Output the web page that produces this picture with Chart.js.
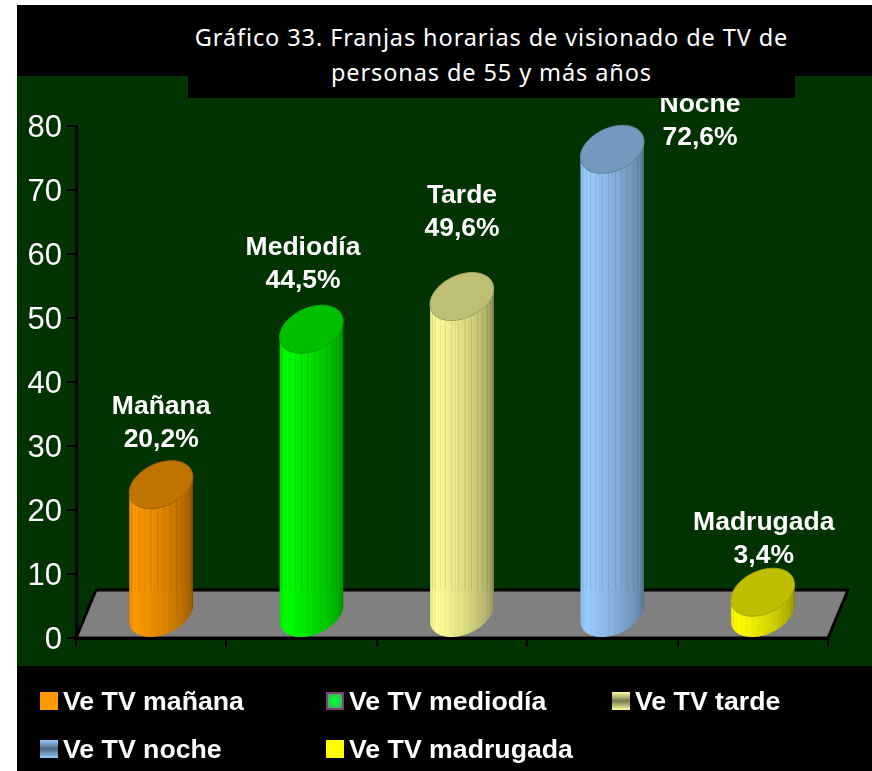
<!DOCTYPE html>
<html>
<head>
<meta charset="utf-8">
<title>Franjas horarias de visionado de TV</title>
<script src="https://cdn.jsdelivr.net/npm/chart.js@4"></script>
<style>
  html, body { margin: 0; padding: 0; background: #fff; overflow: hidden; }
  #stage { position: relative; width: 872px; height: 771px; }
  #panel { position: absolute; left: 17px; top: 76px; right: 0; height: 590px; background: #003300; }
  #bandTop { position: absolute; left: 17px; top: 5px; right: 0; height: 71px; background: #000; }
  #bandBottom { position: absolute; left: 17px; top: 666px; right: 0; bottom: 0; background: #000; }
  #myChart { position: absolute; left: 0; top: 0; }
  #title {
    position: absolute; left: 188px; top: 5px; width: 607px; height: 93px; background: #000;
    color: #fff; text-align: center; font: 23.5px/35px "Noto Sans", sans-serif; letter-spacing: 0.9px;
    padding-top: 15px; box-sizing: border-box;
  }
  .item { position: absolute; color: #fff; font: bold 26.7px/30px "Liberation Sans", sans-serif; white-space: nowrap; }
  .swatch { position: absolute; width: 18px; height: 18px; box-sizing: border-box; }
</style>
</head>
<body>
<div id="stage">
  <div id="bandTop"></div>
  <div id="panel"></div>
  <div id="bandBottom"></div>
  <canvas id="myChart" width="872" height="771"></canvas>
  <div id="title">Gráfico 33. Franjas horarias de visionado de TV de<br>personas de 55 y más años</div>
  <div id="legend"></div>
</div>
<script>
// data
var categories = ["Mañana", "Mediodía", "Tarde", "Noche", "Madrugada"];
var values = [20.2, 44.5, 49.6, 72.6, 3.4];
var seriesNames = ["Ve TV mañana", "Ve TV mediodía", "Ve TV tarde", "Ve TV noche", "Ve TV madrugada"];
var yTicks = [0, 10, 20, 30, 40, 50, 60, 70, 80];

// styles
var colors = [[255, 153, 0], [0, 255, 0], [255, 255, 153], [153, 204, 255], [255, 255, 0]];
var swatches = [
    '#ff9900',
    'radial-gradient(circle, #00ff33 20%, #5a9a6a 100%)',
    'linear-gradient(#ffff99, #77774f 50%, #ffff99)',
    'linear-gradient(#99ccff, #4d6680 50%, #99ccff)',
    '#ffff00'
];
var swatchPos = [[40, 692], [326, 692], [612, 692], [40, 740], [326, 740]];
// where each label sits, relative to the bar top
var labelDx = [10, 1.4, 10, 97.6, 11];
var labelDy = [-21, -24.5, -44, 12, -12.5];

var depthX = 21, depthY = 48;
var shear = depthX / depthY;

function shade(c, k) {
    return 'rgb(' + Math.round(c[0] * k) + ',' + Math.round(c[1] * k) + ',' + Math.round(c[2] * k) + ')';
}

function ellipsePoint(cx, cy, a, b, t) {
    var v = -b * Math.sin(t);
    return [cx + a * Math.cos(t) - shear * v, cy + v];
}

function drawCylinder(ctx, el, color, floorY) {
    var a = el.width / 2, b = depthY / 2;
    var cx = el.x + shear * b - 0.7;
    var topY = el.y - b, baseY = el.base - b;
    var t0 = Math.atan2(shear * b, a);
    var R = Math.sqrt(a * a + shear * shear * b * b);

    // side of the cylinder: outline between the two ellipses
    ctx.save();
    ctx.beginPath();
    var i, p, t;
    for (i = 0; i <= 48; i++) {
        t = t0 + Math.PI + Math.PI * i / 48;
        p = ellipsePoint(cx, baseY, a, b, t);
        if (i === 0) ctx.moveTo(p[0], p[1]); else ctx.lineTo(p[0], p[1]);
    }
    for (i = 48; i >= 0; i--) {
        t = t0 + Math.PI + Math.PI * i / 48;
        p = ellipsePoint(cx, topY, a, b, t);
        ctx.lineTo(p[0], p[1]);
    }
    ctx.closePath();
    ctx.clip();

    // facets, lit from the left
    var facets = 30;
    for (i = 0; i < facets; i++) {
        var x0 = cx - R * Math.cos(Math.PI * i / facets);
        var x1 = cx - R * Math.cos(Math.PI * (i + 1) / facets);
        var f = (i + 0.5) / facets;
        var k = f < 0.2 ? 0.88 + 0.6 * f : 1 - 0.45 * Math.pow((f - 0.2) / 0.8, 1.3);
        ctx.fillStyle = shade(color, k);
        ctx.fillRect(x0, topY - b - 2, x1 - x0 + 0.5, el.base - topY + b + 4);
        if (i % 2 === 1) {
            ctx.fillStyle = shade(color, k * 0.82);
            ctx.fillRect(x1 - 0.5, topY - b - 2, 1, floorY - topY + b + 2);
            ctx.fillStyle = shade(color, k * 0.94);
            ctx.fillRect(x1 - 0.5, floorY, 1, el.base - floorY + 2);
        }
    }
    ctx.restore();

    // top face
    ctx.beginPath();
    for (i = 0; i <= 64; i++) {
        p = ellipsePoint(cx, topY, a, b, Math.PI * 2 * i / 64);
        if (i === 0) ctx.moveTo(p[0], p[1]); else ctx.lineTo(p[0], p[1]);
    }
    ctx.closePath();
    ctx.fillStyle = shade(color, 0.75);
    ctx.fill();
    ctx.strokeStyle = shade(color, 0.66);
    ctx.lineWidth = 1;
    ctx.stroke();
}

var cylinders = {
    id: 'cylinders',
    beforeDatasetsDraw: function (chart) {
        // floor of the 3d plot
        var ctx = chart.ctx, area = chart.chartArea;
        ctx.save();
        ctx.beginPath();
        ctx.moveTo(area.left, area.bottom);
        ctx.lineTo(area.left + depthX - 1, area.bottom - depthY);
        ctx.lineTo(area.right + depthX - 1, area.bottom - depthY);
        ctx.lineTo(area.right, area.bottom);
        ctx.closePath();
        ctx.fillStyle = '#808080';
        ctx.fill();
        ctx.strokeStyle = '#000';
        ctx.lineWidth = 3;
        ctx.stroke();
        ctx.restore();
    },
    beforeDatasetDraw: function (chart, args) {
        var ctx = chart.ctx;
        var floorY = chart.chartArea.bottom - depthY;
        ctx.save();
        args.meta.data.forEach(function (el, i) {
            drawCylinder(ctx, el, colors[i], floorY);
        });
        // labels go after all the bars
        ctx.fillStyle = '#fff';
        ctx.font = 'bold 26.5px "Liberation Sans", sans-serif';
        ctx.textAlign = 'center';
        ctx.textBaseline = 'middle';
        args.meta.data.forEach(function (el, i) {
            var x = el.x + labelDx[i];
            var y = el.y - depthY + labelDy[i];
            ctx.fillText(categories[i], x, y - 33);
            ctx.fillText(values[i].toFixed(1).replace('.', ',') + '%', x, y);
        });
        ctx.restore();
        return false;
    }
};

var ctx = document.getElementById('myChart').getContext('2d');
var chart = new Chart(ctx, {
    type: 'bar',
    data: {
        labels: categories,
        datasets: [{
            label: 'Personas de 55 y más años',
            data: values,
            barThickness: 60,
            backgroundColor: colors.map(function (c) { return shade(c, 1); })
        }]
    },
    options: {
        responsive: false,
        animation: false,
        layout: { autoPadding: false, padding: { left: 0, right: 44, top: 126, bottom: 0 } },
        plugins: { legend: { display: false }, title: { display: false }, tooltip: { enabled: false } },
        scales: {
            x: {
                afterFit: function (axis) { axis.height = 133; },
                border: { color: '#000', width: 3 },
                grid: { drawOnChartArea: false, color: '#000', lineWidth: 2, tickLength: 9 },
                ticks: { callback: function () { return ''; } }
            },
            y: {
                min: 0,
                max: 80,
                afterFit: function (axis) { axis.width = 76; },
                afterBuildTicks: function (axis) {
                    axis.ticks = yTicks.map(function (v) { return { value: v }; });
                },
                border: { color: '#000', width: 3 },
                grid: { drawOnChartArea: false, color: '#000', lineWidth: 2, tickLength: 9 },
                ticks: { color: '#fff', padding: 5, labelOffset: 2, font: { family: '"Liberation Sans", sans-serif', size: 31 } }
            }
        }
    },
    plugins: [cylinders]
});

// legend in three columns, like the original
var legend = document.getElementById('legend');
seriesNames.forEach(function (name, i) {
    var sw = document.createElement('div');
    sw.className = 'swatch';
    sw.style.left = swatchPos[i][0] + 'px';
    sw.style.top = swatchPos[i][1] + 'px';
    sw.style.background = swatches[i];
    if (i === 1) sw.style.border = '2px solid #7b3f7b';
    legend.appendChild(sw);
    var item = document.createElement('div');
    item.className = 'item';
    item.textContent = name;
    item.style.left = (swatchPos[i][0] + 23) + 'px';
    item.style.top = (swatchPos[i][1] - 6) + 'px';
    legend.appendChild(item);
});
</script>
</body>
</html>
